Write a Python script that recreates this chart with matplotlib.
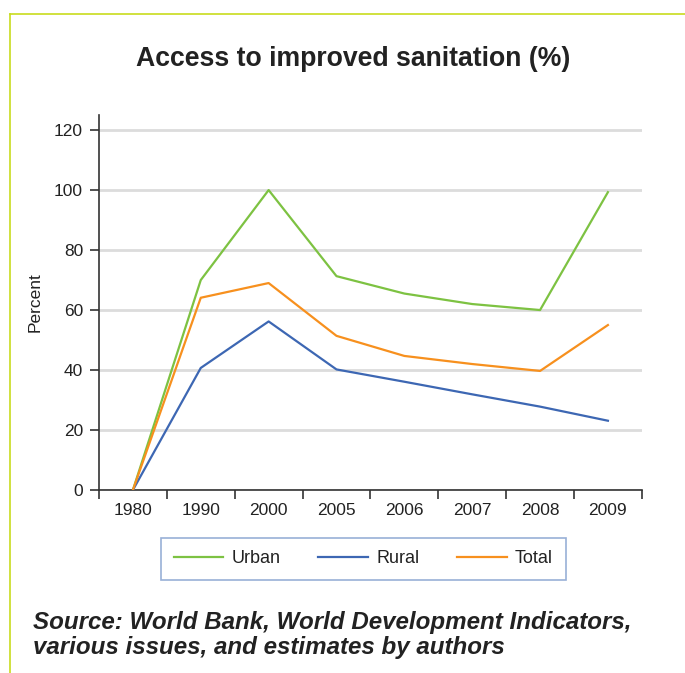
import matplotlib
matplotlib.use("Agg")
import matplotlib.pyplot as plt
from matplotlib.lines import Line2D

plt.rcParams['font.family'] = ['Liberation Sans', 'DejaVu Sans']

years = ["1980", "1990", "2000", "2005", "2006", "2007", "2008", "2009"]
urban = [0, 70, 100, 71.3, 65.5, 62, 60, 99.3]
rural = [0, 40.7, 56.2, 40.2, 36.1, 31.9, 27.8, 23.1]
total = [0, 64.1, 69, 51.4, 44.7, 42, 39.7, 55]
y_ticks = [0, 20, 40, 60, 80, 100, 120]

c_urban = "#7dc242"
c_rural = "#3d67b3"
c_total = "#f7901e"

fig = plt.figure(figsize=(6.85, 6.73), dpi=100)
ax = fig.add_axes([0.1445, 0.2719, 0.7925, 0.5571])

x = list(range(len(years)))
ax.plot(x, urban, color=c_urban, lw=1.6, label="Urban", zorder=3)
ax.plot(x, rural, color=c_rural, lw=1.6, label="Rural", zorder=3)
ax.plot(x, total, color=c_total, lw=1.6, label="Total", zorder=3)

ax.set_xlim(-0.5, len(years) - 0.5)
ax.set_ylim(0, 125)
ax.set_yticks(y_ticks)
ax.set_yticklabels([str(v) for v in y_ticks], fontsize=12.5, color="#222222")
ax.yaxis.grid(True, color="#dcdcdc", lw=2)
ax.set_axisbelow(True)

# category boundaries carry the tick marks; labels sit at band centres
ax.set_xticks([i - 0.5 for i in range(len(years) + 1)])
ax.set_xticklabels([])
ax.set_xticks(x, minor=True)
ax.set_xticklabels(years, minor=True, fontsize=12.5, color="#222222")
ax.tick_params(axis="x", which="major", length=6.5, width=1.2, color="#333333")
ax.tick_params(axis="x", which="minor", length=0, pad=9)
ax.tick_params(axis="y", length=6.5, width=1.2, color="#333333", pad=5)

for s in ["top", "right"]:
    ax.spines[s].set_visible(False)
for s in ["left", "bottom"]:
    ax.spines[s].set_color("#333333")
    ax.spines[s].set_linewidth(1.2)

ax.set_ylabel("Percent", fontsize=12.5, labelpad=8, color="#222222")

fig.text(0.515, 0.912, "Access to improved sanitation (%)", ha="center", va="center",
         fontsize=19.2, fontweight="bold", color="#222222")

leg = ax.legend(loc="center", bbox_to_anchor=(0.487, -0.184), ncol=3, frameon=True,
                fancybox=False, fontsize=13, handlelength=2.75, columnspacing=2.1,
                borderpad=0.7, handletextpad=0.45)
leg.get_frame().set_edgecolor("#7f9ccd")
leg.get_frame().set_linewidth(1.2)
for t in leg.get_texts():
    t.set_color("#222222")

fig.text(0.048, 0.0565, "Source: World Bank, World Development Indicators,\nvarious issues, and estimates by authors",
         ha="left", va="center", fontsize=17.4, fontweight="bold", style="italic",
         color="#222222", linespacing=1.1)

# frame lines along the top and left
border = "#c8dc1e"
fig.add_artist(Line2D([10 / 685, 1.0], [1 - 14 / 673, 1 - 14 / 673], color=border, lw=1.2,
                      transform=fig.transFigure))
fig.add_artist(Line2D([10 / 685, 10 / 685], [0, 1 - 14 / 673], color=border, lw=1.2,
                      transform=fig.transFigure))

fig.savefig("out.png", dpi=100)
